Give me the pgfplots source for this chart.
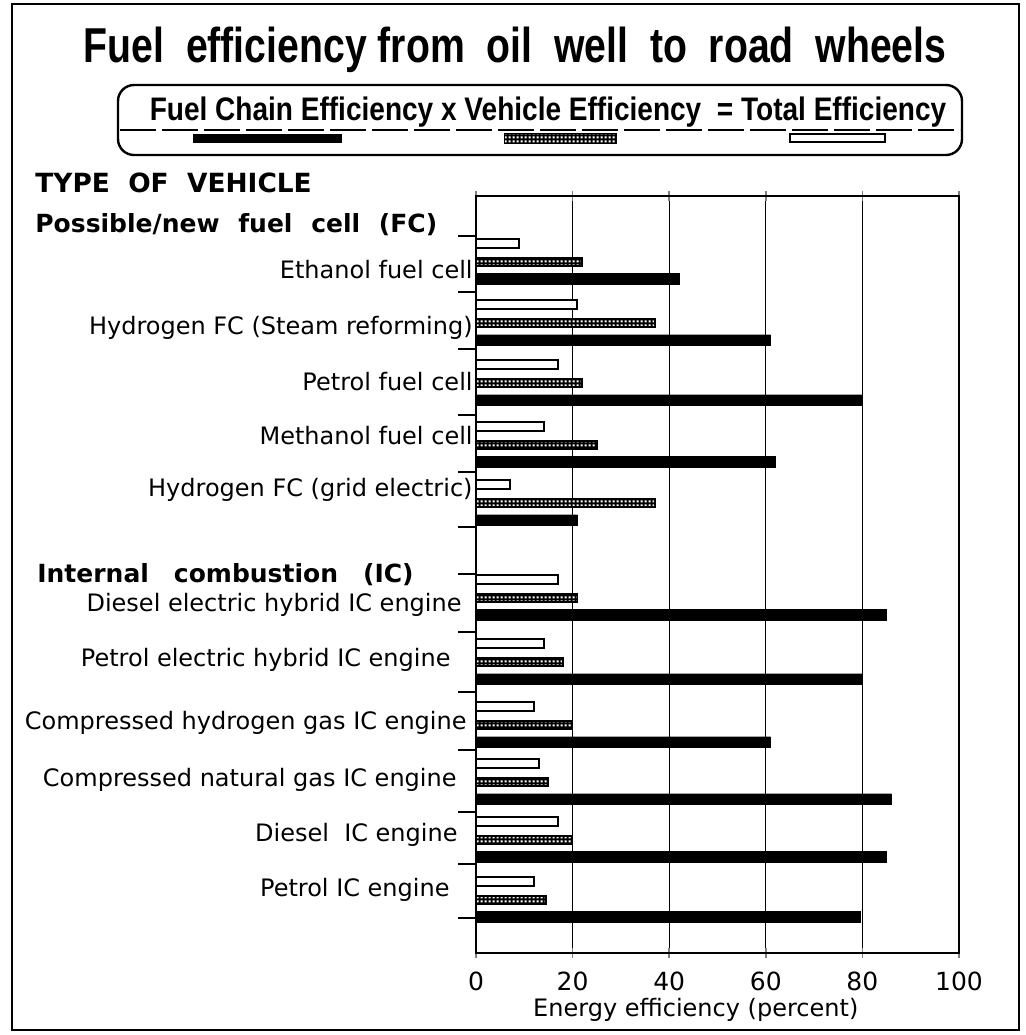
\documentclass[border=0pt]{standalone}
\usepackage{fontspec}
\setmainfont{DejaVu Sans}
\newfontfamily\condfont[FakeStretch=0.8]{Liberation Sans}
\newfontfamily\legfont[FakeStretch=0.86]{Liberation Sans}
\usepackage{pgfplots}
\usepackage{pgfplotstable}
\pgfplotsset{compat=1.18}
\usetikzlibrary{patterns}
\pgfdeclarepatternformonly{finemesh}{\pgfpointorigin}{\pgfpoint{2pt}{2pt}}{\pgfpoint{2pt}{2pt}}{%
  \pgfpathrectangle{\pgfpoint{0.4pt}{0.4pt}}{\pgfpoint{1.2pt}{1.2pt}}%
  \pgfusepath{fill}}

\pgfplotstableread{
pos   total vehicle fuel
1     9     22      42
2.02  21    37      61
3.02  17    22      80
4.05  14    25      62
5.02  7     37      21
6.6   17    21      85
7.67  14    18      80
8.72  12    20      61
9.67  13    15      86
10.63 17    20      85
11.63 12    14.5    79.5
}\effdata

\begin{document}
\begin{tikzpicture}
\begin{scope}[x=0.5pt,y=-0.5pt]
\path (0,0) rectangle (1025,1035);
\draw[line width=1pt] (12,4) rectangle (1019,1030);
\node[anchor=base, inner sep=0pt, font=\condfont\bfseries\fontsize{24.5}{28}\selectfont] at (515,62) {Fuel\ \ efficiency\ from\ \ oil\ \ well\ \ to\ \ road\ \ wheels};
\draw[line width=1.2pt, rounded corners=8pt] (118,85) rectangle (962,155);
\node[anchor=base, inner sep=0pt, font=\legfont\bfseries\fontsize{16.3}{19}\selectfont] at (548,120) {Fuel Chain Efficiency x Vehicle Efficiency\ \ = Total Efficiency};
\draw[line width=0.8pt, dash pattern=on 18pt off 3pt] (120,130) -- (960,130);
\fill[black] (193,134) rectangle (342,143);
\draw[line width=0.6pt, fill=black, postaction={pattern=finemesh, pattern color=white}] (505,134) rectangle (616,143);
\draw[line width=1pt, fill=white] (790,134) rectangle (885,142);
\node[anchor=base west, inner sep=0pt, font=\bfseries\fontsize{13.2}{16}\selectfont] at (35,192) {TYPE\ \ OF\ \ VEHICLE};
\node[anchor=base west, inner sep=0pt, font=\bfseries\fontsize{12.5}{15}\selectfont] at (35,232) {Possible/new\hspace{0.75em}fuel\hspace{0.75em}cell\hspace{0.75em}(FC)};
\node[anchor=base west, inner sep=0pt, font=\bfseries\fontsize{12.5}{15}\selectfont] at (37,582) {Internal\hspace{1.0em}combustion\hspace{1.0em}(IC)};
\end{scope}

\begin{axis}[
  at={(238pt,-476.5pt)}, anchor=south west,
  scale only axis, width=241.5pt, height=378.5pt,
  xmin=0, xmax=100, ymin=-0.1, ymax=12.517, y dir=reverse,
  clip=false,
  /pgf/number format/assume math mode=true,
  axis line style={line width=1.3pt},
  xtick={0,20,40,60,80,100},
  xmajorgrids, grid style={black, line width=0.4pt},
  xtick align=center, major tick length=5pt,
  xtick style={line width=0.8pt},
  xticklabel style={font=\fontsize{12.5}{14}\selectfont, anchor=base, yshift=-16pt},
  xlabel={Energy efficiency (percent)},
  xlabel style={font=\fontsize{12}{14}\selectfont, at={(rel axis cs:0.455,0)}, anchor=base, yshift=-31.5pt},
  ytick={1.133,2.067,3.0,3.9,4.767,6.683,7.6,8.65,9.6,10.517,11.433},
  yticklabels={{Ethanol fuel cell},{Hydrogen FC (Steam reforming)},{Petrol\ fuel\ cell},{Methanol fuel cell},{Hydrogen FC (grid electric)},{Diesel electric hybrid IC engine\hspace*{5.5pt}},{Petrol electric hybrid IC engine\hspace*{11pt}},{Compressed hydrogen gas IC engine\hspace*{3pt}},{Compressed natural gas IC engine\hspace*{8pt}},{Diesel\ \ IC engine\hspace*{7.5pt}},{Petrol IC engine\hspace*{11.5pt}}},
  ytick style={draw=none},
  yticklabel style={font=\fontsize{12}{14}\selectfont, anchor=base east, inner sep=0pt, xshift=-1.5pt, yshift=-4.4pt},
]
\addplot[xbar, bar width=4.5pt, bar shift=0pt, draw=black, line width=1pt, fill=white]
  table[x=total, y expr=\thisrow{pos}-0.31] {\effdata};
\addplot[xbar, bar width=4pt, bar shift=0pt, draw=black, line width=0.8pt, fill=black,
  postaction={pattern=finemesh, pattern color=white}]
  table[x=vehicle, y=pos] {\effdata};
\addplot[xbar, bar width=5.3pt, bar shift=0pt, draw=black, line width=0.2pt, fill=black]
  table[x=fuel, y expr=\thisrow{pos}+0.28] {\effdata};
\pgfplotsinvokeforeach{0.567,1.495,2.455,3.55,4.495,5.412,6.2,7.162,8.162,9.133,10.162,11.033,11.938}{
  \draw[line width=1pt] (axis cs:0,#1) -- ([xshift=-9pt]axis cs:0,#1);
}
\end{axis}
\end{tikzpicture}
\end{document}
